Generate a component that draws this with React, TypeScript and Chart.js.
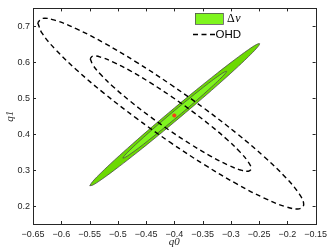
import React, { useEffect, useRef } from "react";
import { Chart, registerables } from "chart.js";

Chart.register(...registerables);

// ---- data ----
const xTickValues = [-0.65, -0.6, -0.55, -0.5, -0.45, -0.4, -0.35, -0.3, -0.25, -0.2, -0.15];
const yTickValues = [0.2, 0.3, 0.4, 0.5, 0.6, 0.7];

// Δv 95% contour (outer green)
const dvOuterQ0 = [-0.5496, -0.5445, -0.5295, -0.5056, -0.4745, -0.4382, -0.3993, -0.3604, -0.3241, -0.2930, -0.2691, -0.2541, -0.2490, -0.2541, -0.2691, -0.2930, -0.3241, -0.3604, -0.3993, -0.4382, -0.4745, -0.5056, -0.5295, -0.5445, -0.5496];
const dvOuterQ1 = [0.2565, 0.2581, 0.2731, 0.3005, 0.3382, 0.3839, 0.4344, 0.4862, 0.5358, 0.5798, 0.6153, 0.6397, 0.6515, 0.6499, 0.6349, 0.6075, 0.5698, 0.5241, 0.4736, 0.4218, 0.3722, 0.3282, 0.2927, 0.2683, 0.2565];
// Δv 68% contour (inner green)
const dvInnerQ0 = [-0.4910, -0.4879, -0.4787, -0.4641, -0.4452, -0.4230, -0.3993, -0.3756, -0.3534, -0.3345, -0.3199, -0.3107, -0.3076, -0.3107, -0.3199, -0.3345, -0.3534, -0.3756, -0.3993, -0.4230, -0.4452, -0.4641, -0.4787, -0.4879, -0.4910];
const dvInnerQ1 = [0.3335, 0.3345, 0.3437, 0.3603, 0.3834, 0.4113, 0.4420, 0.4736, 0.5039, 0.5307, 0.5524, 0.5673, 0.5745, 0.5735, 0.5643, 0.5477, 0.5246, 0.4967, 0.4660, 0.4344, 0.4041, 0.3773, 0.3556, 0.3407, 0.3335];
// OHD 95% contour (outer dashed)
const ohdOuterQ0 = [-0.6417, -0.6337, -0.6102, -0.5728, -0.5241, -0.4673, -0.4064, -0.3455, -0.2887, -0.2400, -0.2026, -0.1791, -0.1711, -0.1791, -0.2026, -0.2400, -0.2887, -0.3455, -0.4064, -0.4673, -0.5241, -0.5728, -0.6102, -0.6337, -0.6417];
const ohdOuterQ1 = [0.7099, 0.6803, 0.6356, 0.5787, 0.5135, 0.4445, 0.3763, 0.3137, 0.2608, 0.2214, 0.1979, 0.1922, 0.2045, 0.2341, 0.2788, 0.3357, 0.4009, 0.4699, 0.5381, 0.6007, 0.6536, 0.6930, 0.7165, 0.7222, 0.7099];
// OHD 68% contour (inner dashed)
const ohdInnerQ0 = [-0.5488, -0.5439, -0.5297, -0.5071, -0.4776, -0.4433, -0.4064, -0.3695, -0.3352, -0.3057, -0.2831, -0.2689, -0.2640, -0.2689, -0.2831, -0.3057, -0.3352, -0.3695, -0.4064, -0.4433, -0.4776, -0.5071, -0.5297, -0.5439, -0.5488];
const ohdInnerQ1 = [0.6101, 0.5922, 0.5651, 0.5307, 0.4913, 0.4495, 0.4083, 0.3704, 0.3384, 0.3145, 0.3004, 0.2969, 0.3043, 0.3222, 0.3493, 0.3837, 0.4231, 0.4649, 0.5061, 0.5440, 0.5760, 0.5999, 0.6140, 0.6175, 0.6101];
// best fit point
const bestQ0 = [-0.4];
const bestQ1 = [0.452];

const legendLabels = ["\u0394", "v", "OHD"];

const toPts = (xs: number[], ys: number[]) => xs.map((x, i) => ({ x, y: ys[i] }));
const fmt = (v: number) => {
  const s = String(Math.round(v * 100) / 100);
  return s.replace("-", "\u2212");
};

const AXIS_COLOR = "#262626";

const framePlugin = {
  id: "frame",
  afterDraw(chart: any) {
    const { ctx, chartArea: a, scales } = chart;
    ctx.save();
    ctx.strokeStyle = AXIS_COLOR;
    ctx.lineWidth = 1;
    ctx.strokeRect(Math.round(a.left) + 0.5, Math.round(a.top) + 0.5, Math.round(a.right - a.left), Math.round(a.bottom - a.top));
    const tl = 3;
    ctx.beginPath();
    xTickValues.forEach((v) => {
      const px = Math.round(scales.x.getPixelForValue(v)) + 0.5;
      ctx.moveTo(px, a.bottom);
      ctx.lineTo(px, a.bottom - tl);
      ctx.moveTo(px, a.top);
      ctx.lineTo(px, a.top + tl);
    });
    yTickValues.forEach((v) => {
      const py = Math.round(scales.y.getPixelForValue(v)) + 0.5;
      ctx.moveTo(a.left, py);
      ctx.lineTo(a.left + tl, py);
      ctx.moveTo(a.right, py);
      ctx.lineTo(a.right - tl, py);
    });
    ctx.stroke();

    // legend
    ctx.fillStyle = "#7ff51e";
    ctx.fillRect(195, 13, 28, 11);
    ctx.strokeStyle = "#555";
    ctx.lineWidth = 0.8;
    ctx.strokeRect(195.5, 13.5, 28, 11);
    ctx.fillStyle = "#000";
    ctx.textBaseline = "middle";
    ctx.textAlign = "left";
    ctx.font = "12px 'Liberation Serif'";
    ctx.fillText(legendLabels[0], 227, 19);
    const dw = ctx.measureText(legendLabels[0]).width;
    ctx.font = "italic 12px 'Liberation Serif'";
    ctx.fillText(legendLabels[1], 227 + dw + 0.5, 19);
    ctx.strokeStyle = "#000";
    ctx.lineWidth = 1.4;
    ctx.setLineDash([5, 3.5]);
    ctx.beginPath();
    ctx.moveTo(193, 34.5);
    ctx.lineTo(215, 34.5);
    ctx.stroke();
    ctx.setLineDash([]);
    ctx.font = "11.5px 'Liberation Sans'";
    ctx.fillText(legendLabels[2], 215.5, 35);
    ctx.restore();
  },
};

export default function App() {
  const ref = useRef<HTMLCanvasElement | null>(null);
  useEffect(() => {
    if (!ref.current) return;
    const edge = "#4a4a4a";
    // Chart.js paints the last dataset first, so the top-most layer comes first here.
    const chart = new Chart(ref.current, {
      type: "scatter",
      data: {
        datasets: [
          {
            label: "best",
            data: toPts(bestQ0, bestQ1),
            showLine: false,
            pointRadius: 1.8,
            pointBackgroundColor: "#ff3b1a",
            pointBorderColor: "#e8301a",
            pointBorderWidth: 0.5,
          },
          {
            label: "ohd68",
            data: toPts(ohdInnerQ0, ohdInnerQ1),
            showLine: true,
            tension: 0.4,
            fill: false,
            borderColor: "#000",
            borderWidth: 1.4,
            borderDash: [5, 3.5],
            pointRadius: 0,
          },
          {
            label: "ohd95",
            data: toPts(ohdOuterQ0, ohdOuterQ1),
            showLine: true,
            tension: 0.4,
            fill: false,
            borderColor: "#000",
            borderWidth: 1.4,
            borderDash: [5, 3.5],
            pointRadius: 0,
          },
          {
            label: "dv68",
            data: toPts(dvInnerQ0, dvInnerQ1),
            showLine: true,
            tension: 0.4,
            fill: "shape",
            backgroundColor: "#7ff51e",
            borderColor: edge,
            borderWidth: 0.8,
            pointRadius: 0,
          },
          {
            label: "dv95",
            data: toPts(dvOuterQ0, dvOuterQ1),
            showLine: true,
            tension: 0.4,
            fill: "shape",
            backgroundColor: "#6cd902",
            borderColor: edge,
            borderWidth: 0.8,
            pointRadius: 0,
          },
        ],
      },
      options: {
        animation: false,
        responsive: true,
        maintainAspectRatio: false,
        devicePixelRatio: 1,
        layout: { padding: { left: 0, right: 13, top: 5, bottom: 0 } },
        plugins: { legend: { display: false }, tooltip: { enabled: false } },
        scales: {
          x: {
            type: "linear",
            min: -0.65,
            max: -0.15,
            afterBuildTicks: (s: any) => {
              s.ticks = xTickValues.map((value) => ({ value }));
            },
            afterFit: (s: any) => {
              s.height = 26;
            },
            grid: { display: false, drawTicks: false },
            border: { display: false },
            ticks: {
              padding: 5,
              maxRotation: 0,
              autoSkip: false,
              color: AXIS_COLOR,
              font: { family: "'Liberation Sans'", size: 9 },
              callback: (v: any) => fmt(Number(v)),
            },
            title: {
              display: true,
              text: "q0",
              color: AXIS_COLOR,
              font: { family: "'Liberation Serif'", style: "italic", size: 11 },
              padding: { top: 0, bottom: 1 },
            },
          },
          y: {
            type: "linear",
            min: 0.15,
            max: 0.75,
            afterBuildTicks: (s: any) => {
              s.ticks = yTickValues.map((value) => ({ value }));
            },
            afterFit: (s: any) => {
              s.width = 33;
            },
            grid: { display: false, drawTicks: false },
            border: { display: false },
            ticks: {
              padding: 3,
              autoSkip: false,
              color: AXIS_COLOR,
              font: { family: "'Liberation Sans'", size: 9 },
              callback: (v: any) => fmt(Number(v)),
            },
            title: {
              display: true,
              text: "q1",
              color: AXIS_COLOR,
              font: { family: "'Liberation Serif'", style: "italic", size: 11 },
              padding: { top: 4, bottom: 0 },
            },
          },
        },
      },
      plugins: [framePlugin],
    });
    return () => chart.destroy();
  }, []);
  return (
    <div style={{ position: "fixed", left: 0, top: 0, width: 332, height: 250, background: "#fff" }}>
      <canvas ref={ref} />
    </div>
  );
}
